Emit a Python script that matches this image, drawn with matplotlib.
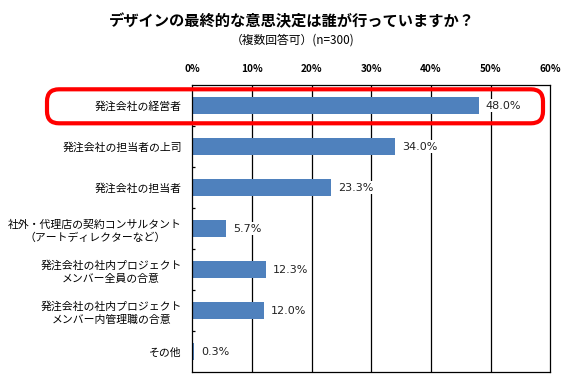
import matplotlib
matplotlib.use("Agg")
import matplotlib.pyplot as plt
from matplotlib.patches import FancyBboxPatch
from matplotlib.ticker import FixedLocator, FuncFormatter

plt.rcParams['font.family'] = ['Noto Sans CJK JP', 'DejaVu Sans']

title = "デザインの最終的な意思決定は誰が行っていますか？"
subtitle = "（複数回答可）(n=300)"
categories = [
    "発注会社の経営者",
    "発注会社の担当者の上司",
    "発注会社の担当者",
    "社外・代理店の契約コンサルタント\n（アートディレクターなど）",
    "発注会社の社内プロジェクト\nメンバー全員の合意",
    "発注会社の社内プロジェクト\nメンバー内管理職の合意",
    "その他",
]
values = [48.0, 34.0, 23.3, 5.7, 12.3, 12.0, 0.3]
xticks = [0, 10, 20, 30, 40, 50, 60]

W, H = 583, 383
fig = plt.figure(figsize=(W / 100, H / 100), dpi=100)
ax = fig.add_axes([192.3 / W, 1 - 372 / H, (550.3 - 192.3) / W, (372 - 85.3) / H])

y = list(range(len(categories)))
ax.barh(y, values, height=0.42, color="#4F81BD", zorder=2)
ax.set_ylim(len(categories) - 0.5, -0.5)
ax.set_xlim(0, 60)

for v in xticks[1:-1]:
    ax.axvline(v, color="black", lw=0.9, zorder=1)

for yi, v in zip(y, values):
    ax.annotate(f"{v:.1f}%", xy=(v, yi), xytext=(5, 0), textcoords="offset points",
                ha="left", va="center", fontsize=8, family="DejaVu Sans", color="#222222",
                bbox=dict(boxstyle="square,pad=0.15", fc="white", ec="none"), zorder=3)

ax.xaxis.tick_top()
ax.set_xticks(xticks)
ax.xaxis.set_major_formatter(FuncFormatter(lambda v, p: f"{int(v)}%"))
ax.tick_params(axis="x", length=0, pad=8, labelsize=7.2)
for lab in ax.get_xticklabels():
    lab.set_fontweight("bold")

ax.set_yticks(y)
ax.set_yticklabels(categories, fontsize=7.8, multialignment="center", linespacing=1.4)
ax.tick_params(axis="y", which="major", length=0, pad=7.5)
ax.yaxis.set_minor_locator(FixedLocator([i + 0.5 for i in range(len(categories) - 1)]))
ax.tick_params(axis="y", which="minor", direction="in", length=2.5, width=0.9)

for s in ax.spines.values():
    s.set_color("black")
    s.set_linewidth(0.9)

fig.text(0.5, 1 - 21.5 / H, title, ha="center", va="center", fontsize=11, fontweight="bold")
fig.text(293 / W, 1 - 40 / H, subtitle, ha="center", va="center", fontsize=8.5)

rect = FancyBboxPatch((0.47, (H - 123.3) / 100), 4.96, 0.34,
                      boxstyle="round,pad=0,rounding_size=0.12",
                      transform=fig.dpi_scale_trans, fc="none", ec="#FF0000", lw=3.0,
                      zorder=10, clip_on=False)
fig.add_artist(rect)

fig.savefig("out.png", dpi=100)
